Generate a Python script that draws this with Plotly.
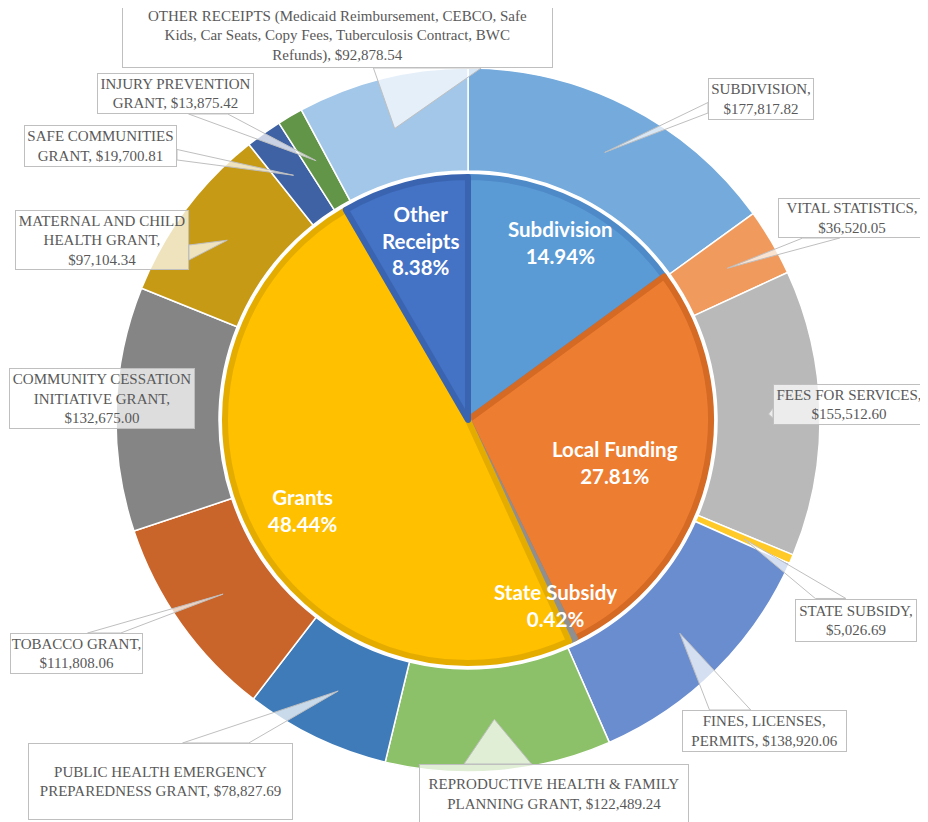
import math
import plotly.graph_objects as go

# ---------------- data ----------------
outer_names = [
    "SUBDIVISION", "VITAL STATISTICS", "FEES FOR SERVICES", "STATE SUBSIDY",
    "FINES, LICENSES, PERMITS", "REPRODUCTIVE HEALTH & FAMILY PLANNING GRANT",
    "PUBLIC HEALTH EMERGENCY PREPAREDNESS GRANT", "TOBACCO GRANT",
    "COMMUNITY CESSATION INITIATIVE GRANT", "MATERNAL AND CHILD HEALTH GRANT",
    "SAFE COMMUNITIES GRANT", "INJURY PREVENTION GRANT",
    "OTHER RECEIPTS (Medicaid Reimbursement, CEBCO, Safe Kids, Car Seats, Copy Fees, Tuberculosis Contract, BWC Refunds)",
]
outer_values = [177817.82, 36520.05, 155512.60, 5026.69, 138920.06, 122489.24,
                78827.69, 111808.06, 132675.00, 97104.34, 19700.81, 13875.42, 92878.54]
# callout label text (line-broken name prefix; the value is appended)
callout_prefix = [
    "SUBDIVISION,<br>",
    "VITAL STATISTICS,<br>",
    "FEES FOR SERVICES,<br>",
    "STATE SUBSIDY,<br>",
    "FINES, LICENSES,<br>PERMITS, ",
    "REPRODUCTIVE HEALTH & FAMILY<br>PLANNING GRANT, ",
    "PUBLIC HEALTH EMERGENCY<br>PREPAREDNESS GRANT, ",
    "TOBACCO GRANT,<br>",
    "COMMUNITY CESSATION<br>INITIATIVE GRANT,<br>",
    "MATERNAL AND CHILD<br>HEALTH GRANT,<br>",
    "SAFE COMMUNITIES<br>GRANT, ",
    "INJURY PREVENTION<br>GRANT, ",
    "OTHER RECEIPTS (Medicaid Reimbursement, CEBCO, Safe<br>Kids, Car Seats, Copy Fees, Tuberculosis Contract, BWC<br>Refunds), ",
]
inner_labels = ["Subdivision", "Local Funding", "State Subsidy", "Grants", "Other<br>Receipts"]
inner_pcts = [14.94, 27.81, 0.42, 48.44, 8.38]

# ---------------- style ----------------
PAGE_W, PAGE_H = 928, 822
OFF = 8                      # default page margin of the html body
W, H = PAGE_W - OFF, PAGE_H - OFF
CX, CY = 468, 420
R_OUT, R_IN, R_PIE = 352, 249, 243

outer_colors = ["#74AADC", "#F19A5E", "#B9B9B9", "#FFCA28", "#6A8DD0", "#8CC069",
                "#3F7BB8", "#C9642A", "#858585", "#C79A16", "#3E62A3", "#629548", "#A3C7E8"]
inner_colors = ["#5B9BD5", "#ED7D31", "#A5A5A5", "#FFC000", "#4472C4"]
inner_edge = ["#4E8AC8", "#D46A24", "#8F8F8F", "#E5AC00", "#3A64B0"]

# callout boxes: centre x, centre y, width, height (page pixels)
boxes = [
    (761, 99, 106, 42),
    (852, 218, 148, 40),
    (849, 404.5, 152, 41),
    (856, 620, 122, 43),
    (764.5, 731, 165, 42),
    (554, 794, 270, 60),
    (160.5, 781.5, 265, 77),
    (76.5, 653.5, 133, 41),
    (102, 398.5, 186, 61),
    (102, 240, 174, 60),
    (100.5, 146, 153, 42),
    (175.5, 93.5, 157, 41),
    (337.5, 35.5, 431, 65),
]
# inner label positions (page pixels)
inner_pos = [(560, 243), (615, 462), (555, 605), (302, 510), (420, 240)]


def px(x):
    return (x - OFF) / W


def py(y):
    return 1 - (y - OFF) / H


fig = go.Figure()

fig.add_trace(go.Pie(
    values=outer_values, labels=outer_names, sort=False, direction="clockwise",
    rotation=0, hole=R_IN / R_OUT, textinfo="none", textposition="none",
    marker=dict(colors=outer_colors, line=dict(color="white", width=1.5)),
    domain=dict(x=[px(CX - R_OUT), px(CX + R_OUT)], y=[py(CY + R_OUT), py(CY - R_OUT)]),
    showlegend=False, hoverinfo="label+value",
))

fig.add_trace(go.Pie(
    values=inner_pcts, labels=[l.replace("<br>", " ") for l in inner_labels], sort=False,
    direction="clockwise", rotation=0, textinfo="none", textposition="none",
    marker=dict(colors=inner_colors, line=dict(color=inner_edge, width=6)),
    domain=dict(x=[px(CX - R_PIE), px(CX + R_PIE)], y=[py(CY + R_PIE), py(CY - R_PIE)]),
    showlegend=False, hoverinfo="label+percent",
))

annotations = []
shapes = []
total = sum(outer_values)
cum = 0.0
r_tip = (R_OUT + R_IN) / 2
for i, v in enumerate(outer_values):
    mid = (cum + v / 2) / total
    cum += v
    ang = 2 * math.pi * mid
    tx = CX + r_tip * math.sin(ang)
    ty = CY - r_tip * math.cos(ang)
    bx, by, bw, bh = boxes[i]
    x0, x1, y0, y1 = bx - bw / 2, bx + bw / 2, by - bh / 2, by + bh / 2
    text = callout_prefix[i] + "${:,.2f}".format(v)
    annotations.append(dict(
        x=px(bx), y=py(by), xref="paper", yref="paper", xanchor="center", yanchor="middle",
        showarrow=False, text=text, align="center", width=bw - 2, height=bh - 2,
        font=dict(family="Liberation Serif", size=15, color="#595959"),
        bgcolor="rgba(255,255,255,0.72)", bordercolor="#BFBFBF", borderwidth=1, borderpad=0,
    ))
    inside = x0 <= tx <= x1 and y0 <= ty <= y1
    if inside:
        continue
    dx, dy = tx - bx, ty - by
    if abs(dx) / bw > abs(dy) / bh:
        ex = x1 if dx > 0 else x0
        f = (2 / 12, 5 / 12) if dy < 0 else (7 / 12, 10 / 12)
        p1 = (ex, y0 + f[0] * bh)
        p2 = (ex, y0 + f[1] * bh)
    else:
        ey = y1 if dy > 0 else y0
        f = (2 / 12, 5 / 12) if dx < 0 else (7 / 12, 10 / 12)
        p1 = (x0 + f[0] * bw, ey)
        p2 = (x0 + f[1] * bw, ey)
    path = "M {:.4f},{:.4f} L {:.4f},{:.4f} L {:.4f},{:.4f} Z".format(
        px(p1[0]), py(p1[1]), px(tx), py(ty), px(p2[0]), py(p2[1]))
    shapes.append(dict(type="path", path=path, xref="paper", yref="paper",
                       fillcolor="rgba(255,255,255,0.72)",
                       line=dict(color="#BFBFBF", width=1), layer="above"))

for lab, pct, (lx, ly) in zip(inner_labels, inner_pcts, inner_pos):
    annotations.append(dict(
        x=px(lx), y=py(ly), xref="paper", yref="paper", xanchor="center", yanchor="middle",
        showarrow=False, text="<b>{}<br>{:.2f}%</b>".format(lab, pct), align="center",
        font=dict(family="Lato", size=20.5, color="white"),
    ))

fig.update_layout(
    width=W, height=H, margin=dict(l=0, r=0, t=0, b=0),
    paper_bgcolor="white", plot_bgcolor="white",
    annotations=annotations, shapes=shapes,
)

fig.write_html("out.html")
